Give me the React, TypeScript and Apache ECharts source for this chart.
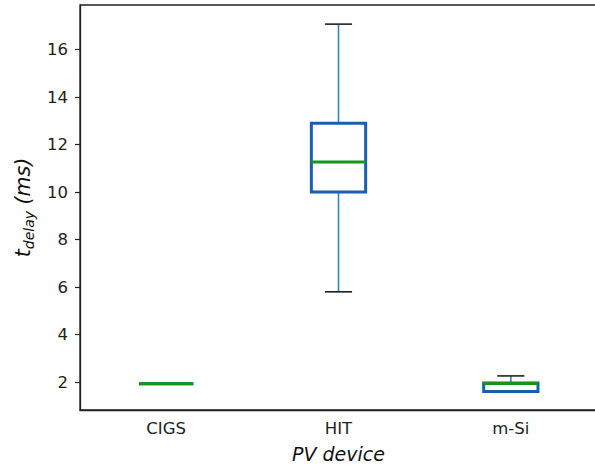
import React, { useEffect, useRef } from "react";
import * as echarts from "echarts";

const categories = ["CIGS", "HIT", "m-Si"];
const whiskerLow = [1.93, 5.8, 1.6];
const q1 = [1.93, 10.0, 1.6];
const median = [1.93, 11.27, 1.94];
const q3 = [1.93, 12.9, 1.96];
const whiskerHigh = [1.93, 17.07, 2.26];
const yTicks = [2, 4, 6, 8, 10, 12, 14, 16];

const BOX = "#1a5fad";
const WHISK = "#2b86c8";
const CAP = "#222222";
const MED = "#16951c";

export default function App() {
  const ref = useRef<HTMLDivElement>(null);
  useEffect(() => {
    if (!ref.current) return;
    const chart = echarts.init(ref.current, undefined, { renderer: "svg" });
    const data = categories.map((c, i) => [i, whiskerLow[i], q1[i], median[i], q3[i], whiskerHigh[i]]);
    chart.setOption({
      animation: false,
      grid: { left: 80, top: 5, bottom: 61, right: 3, show: true, borderColor: "#222", borderWidth: 1.3, backgroundColor: "transparent" },
      xAxis: {
        type: "category",
        data: categories,
        boundaryGap: true,
        name: "PV device",
        nameLocation: "middle",
        nameGap: 34,
        nameTextStyle: { fontFamily: "DejaVu Sans", fontStyle: "italic", fontSize: 19, color: "#111" },
        axisLine: { lineStyle: { color: "#222", width: 1.3 } },
        axisTick: { alignWithLabel: true, length: 5, lineStyle: { color: "#222", width: 1.2 } },
        axisLabel: { margin: 10, fontFamily: "DejaVu Sans", fontSize: 16.5, color: "#222" },
        splitLine: { show: false },
      },
      yAxis: {
        type: "value",
        min: 0.825,
        max: 17.875,
        name: "{t|t}{s|delay}{t| (ms)}",
        nameLocation: "middle",
        nameRotate: 90,
        nameGap: 42,
        nameTextStyle: {
          color: "#111",
          rich: {
            t: { fontFamily: "DejaVu Sans", fontStyle: "italic", fontSize: 20.5, color: "#111", lineHeight: 27, verticalAlign: "middle" },
            s: { fontFamily: "DejaVu Sans", fontStyle: "italic", fontSize: 14, color: "#111", lineHeight: 14, verticalAlign: "bottom" },
          },
        },
        axisLine: { show: true, lineStyle: { color: "#222", width: 1.3 } },
        axisTick: { show: true, length: 5, customValues: yTicks, lineStyle: { color: "#222", width: 1.2 } },
        axisLabel: { margin: 12, customValues: yTicks, fontFamily: "DejaVu Sans", fontSize: 16.5, color: "#222" },
        splitLine: { show: false },
      },
      series: [
        {
          type: "custom",
          data,
          encode: { x: 0, y: [1, 2, 3, 4, 5] },
          renderItem: (params: any, api: any) => {
            const x = api.value(0);
            const lo = api.coord([x, api.value(1)]);
            const b1 = api.coord([x, api.value(2)]);
            const md = api.coord([x, api.value(3)]);
            const b3 = api.coord([x, api.value(4)]);
            const hi = api.coord([x, api.value(5)]);
            const band = api.size([1, 0])[0];
            const bw = band * 0.315;
            const cx = lo[0];
            const children: any[] = [];
            children.push({ type: "line", shape: { x1: cx, y1: b1[1], x2: cx, y2: lo[1] }, style: { stroke: WHISK, lineWidth: 1.6 } });
            children.push({ type: "line", shape: { x1: cx, y1: b3[1], x2: cx, y2: hi[1] }, style: { stroke: WHISK, lineWidth: 1.6 } });
            children.push({ type: "line", shape: { x1: cx - bw / 4, y1: lo[1], x2: cx + bw / 4, y2: lo[1] }, style: { stroke: CAP, lineWidth: 1.6 } });
            children.push({ type: "line", shape: { x1: cx - bw / 4, y1: hi[1], x2: cx + bw / 4, y2: hi[1] }, style: { stroke: CAP, lineWidth: 1.6 } });
            children.push({
              type: "rect",
              shape: { x: cx - bw / 2, y: b3[1], width: bw, height: b1[1] - b3[1] },
              style: { fill: "none", stroke: BOX, lineWidth: 3 },
            });
            children.push({ type: "line", shape: { x1: cx - bw / 2, y1: md[1], x2: cx + bw / 2, y2: md[1] }, style: { stroke: MED, lineWidth: 3 } });
            return { type: "group", children };
          },
        },
      ],
    });
    return () => chart.dispose();
  }, []);
  return (
    <div style={{ position: "fixed", left: 0, top: 0, width: 595, height: 471, overflow: "hidden", background: "#fff" }}>
      <div ref={ref} style={{ width: 600, height: 471 }} />
    </div>
  );
}
